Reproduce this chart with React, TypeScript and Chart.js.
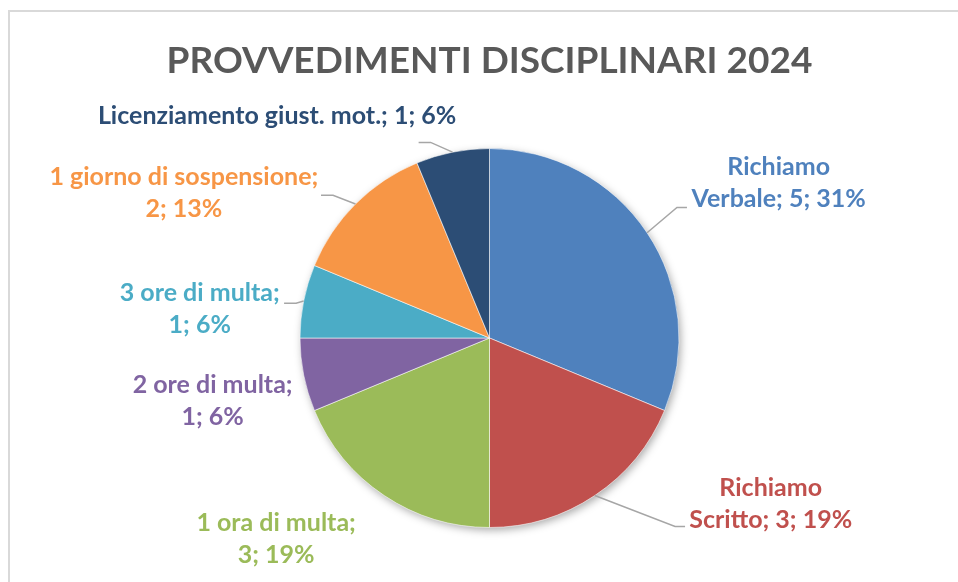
import React, { useEffect, useRef } from "react";
import { Chart, registerables } from "chart.js";

Chart.register(...registerables);

// ---- data ----
const categories = [
  "Richiamo Verbale",
  "Richiamo Scritto",
  "1 ora di multa",
  "2 ore di multa",
  "3 ore di multa",
  "1 giorno di sospensione",
  "Licenziamento giust. mot.",
];
const counts = [5, 3, 3, 1, 1, 2, 1];
const sliceColors = ["#4F81BD", "#C0504D", "#9BBB59", "#8064A2", "#4BACC6", "#F79646", "#2C4D75"];
const labelColors = ["#4F81BD", "#C0504D", "#9BBB59", "#8064A2", "#4BACC6", "#F79646", "#2C4D75"];
const titleText = "PROVVEDIMENTI DISCIPLINARI 2024";

// ---- label layout (units of pie radius, measured from the pie centre) ----
const labelLayout = [
  { dx: 1.526, dy: -0.816, breakAfter: 1, leader: { dx: 1.042, dy: -0.689 } },
  { dx: 1.484, dy: 0.874, breakAfter: 1, leader: { dx: 1.032, dy: 0.995 } },
  { dx: -1.126, dy: 1.058, breakAfter: 4, leader: null },
  { dx: -1.461, dy: 0.332, breakAfter: 4, leader: null },
  { dx: -1.529, dy: -0.153, breakAfter: 4, leader: { dx: -1.084, dy: -0.184 } },
  { dx: -1.613, dy: -0.766, breakAfter: 4, leader: { dx: -0.889, dy: -0.753 } },
  { dx: -1.121, dy: -1.174, breakAfter: 0, leader: { dx: -0.374, dy: -1.032 } },
];

const FONT = "Lato, 'Open Sans', sans-serif";
const LABEL_SIZE = 25;
const LINE_GAP = 32;
const TITLE_SIZE = 37;
const TITLE_Y = 61;

const titlePlugin = {
  id: "pieTitle",
  afterDraw(chart: any) {
    const ctx = chart.ctx;
    const meta = chart.getDatasetMeta(0);
    const arc = meta.data[0];
    const cx = arc ? arc.getProps(["x"], true).x : chart.width / 2;
    ctx.save();
    ctx.font = `bold ${TITLE_SIZE}px ${FONT}`;
    ctx.fillStyle = "#595959";
    ctx.textAlign = "center";
    ctx.textBaseline = "middle";
    ctx.fillText(titleText, cx, TITLE_Y);
    ctx.restore();
  },
};

const shadowPlugin = {
  id: "pieShadow",
  beforeDatasetsDraw(chart: any) {
    const meta = chart.getDatasetMeta(0);
    const arc = meta.data[0];
    if (!arc) return;
    const { x, y, outerRadius } = arc.getProps(["x", "y", "outerRadius"], true);
    const ctx = chart.ctx;
    ctx.save();
    ctx.shadowColor = "rgba(0,0,0,0.35)";
    ctx.shadowBlur = 9;
    ctx.shadowOffsetX = 2;
    ctx.shadowOffsetY = 3;
    ctx.beginPath();
    ctx.arc(x, y, outerRadius - 0.5, 0, Math.PI * 2);
    ctx.fillStyle = "#ffffff";
    ctx.fill();
    ctx.restore();
  },
};

const labelPlugin = {
  id: "pieLabels",
  afterDatasetsDraw(chart: any) {
    const ctx = chart.ctx;
    const meta = chart.getDatasetMeta(0);
    const values = chart.data.datasets[0].data as number[];
    const total = values.reduce((a, b) => a + b, 0);
    ctx.save();
    meta.data.forEach((arc: any, i: number) => {
      const { x, y, startAngle, endAngle, outerRadius } = arc.getProps(
        ["x", "y", "startAngle", "endAngle", "outerRadius"],
        true
      );
      const R = outerRadius;
      const mid = (startAngle + endAngle) / 2;
      const lay = labelLayout[i];
      const pct = Math.round((values[i] / total) * 100);
      const text = `${chart.data.labels[i]}; ${values[i]}; ${pct}%`;
      const words = text.split(" ");
      const lines =
        lay.breakAfter > 0
          ? [words.slice(0, lay.breakAfter).join(" "), words.slice(lay.breakAfter).join(" ")]
          : [text];

      if (lay.leader) {
        const ex = x + lay.leader.dx * R;
        const ey = y + lay.leader.dy * R;
        const elbowX = ex + (ex < x ? 12 : -10);
        ctx.beginPath();
        ctx.moveTo(x + Math.cos(mid) * R, y + Math.sin(mid) * R);
        ctx.lineTo(elbowX, ey);
        ctx.lineTo(ex, ey);
        ctx.strokeStyle = "#A6A6A6";
        ctx.lineWidth = 1.5;
        ctx.stroke();
      }

      ctx.fillStyle = labelColors[i];
      ctx.font = `bold ${LABEL_SIZE}px ${FONT}`;
      ctx.textAlign = "center";
      ctx.textBaseline = "middle";
      const cx = x + lay.dx * R;
      const cy = y + lay.dy * R;
      lines.forEach((ln, k) => {
        ctx.fillText(ln, cx, cy + (k - (lines.length - 1) / 2) * LINE_GAP);
      });
    });
    ctx.restore();
  },
};

export default function App() {
  const ref = useRef<HTMLCanvasElement>(null);

  useEffect(() => {
    if (!ref.current) return;
    const chart = new Chart(ref.current, {
      type: "pie",
      data: {
        labels: categories,
        datasets: [
          {
            data: counts,
            backgroundColor: sliceColors,
            borderColor: "rgba(255,255,255,0.55)",
            borderWidth: 1,
          },
        ],
      },
      options: {
        animation: false,
        responsive: true,
        maintainAspectRatio: false,
        layout: { padding: { top: 148, left: 299, right: 278, bottom: 54 } },
        plugins: {
          legend: { display: false },
          tooltip: { enabled: false },
          title: { display: false },
        },
      },
      plugins: [shadowPlugin, labelPlugin, titlePlugin],
    });
    return () => chart.destroy();
  }, []);

  return (
    <div
      style={{
        position: "fixed",
        left: 0,
        top: 0,
        width: 958,
        height: 582,
        overflow: "hidden",
        background: "#ffffff",
      }}
    >
      <div
        style={{
          position: "absolute",
          left: 8,
          top: 10,
          width: 1000,
          height: 700,
          border: "2px solid #D9D9D9",
          boxSizing: "border-box",
        }}
      />
      <div style={{ position: "absolute", left: 0, top: 0, width: 958, height: 582 }}>
        <canvas ref={ref} />
      </div>
    </div>
  );
}
